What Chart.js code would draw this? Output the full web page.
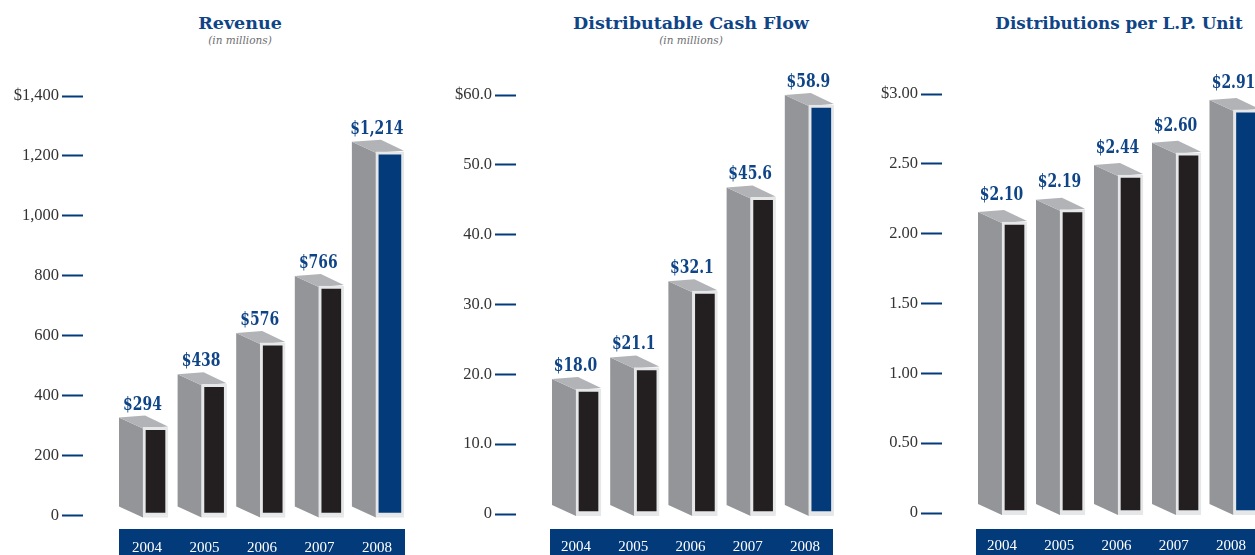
<!DOCTYPE html>
<html>
<head>
<meta charset="utf-8">
<title>Revenue, Distributable Cash Flow, Distributions per L.P. Unit</title>
<script src="https://cdn.jsdelivr.net/npm/chart.js@4"></script>
<style>
  html, body { margin: 0; padding: 0; background: #fff; }
  body { position: relative; width: 1255px; height: 555px; overflow: hidden; }
  canvas { position: absolute; top: 0; }
  .band { position: absolute; top: 529px; height: 26px; background: #023a7a; }
  .head { position: absolute; width: 400px; text-align: center; }
  .head h2 { position: absolute; top: 11px; width: 100%; margin: 0; font: bold 17.5px/24px "DejaVu Serif", serif; color: #0f4587; }
  .head p { position: absolute; top: 33px; width: 100%; margin: 0; font: italic 10.5px/14px "DejaVu Serif", serif; color: #6d6e71; }
</style>
</head>
<body>
<div class="band" style="left:119px;width:286px"></div>
<div class="band" style="left:550px;width:283px"></div>
<div class="band" style="left:976px;width:279px"></div>

<div class="head" style="left:40px"><h2>Revenue</h2><p>(in millions)</p></div>
<div class="head" style="left:491px"><h2>Distributable Cash Flow</h2><p>(in millions)</p></div>
<div class="head" style="left:919px"><h2 style="font-size:16.8px">Distributions per L.P. Unit</h2></div>

<canvas id="revenueChart"></canvas>
<canvas id="cashChart"></canvas>
<canvas id="unitChart"></canvas>

<script>
// ---- Data ----
const years = ['2004', '2005', '2006', '2007', '2008'];

const revenue = [294, 438, 576, 766, 1214];
const revenueLabels = ['$294', '$438', '$576', '$766', '$1,214'];
const revenueTicks = ['0', '200', '400', '600', '800', '1,000', '1,200', '$1,400'];

const cashFlow = [18.0, 21.1, 32.1, 45.6, 58.9];
const cashFlowLabels = ['$18.0', '$21.1', '$32.1', '$45.6', '$58.9'];
const cashFlowTicks = ['0', '10.0', '20.0', '30.0', '40.0', '50.0', '$60.0'];

const unitDist = [2.10, 2.19, 2.44, 2.60, 2.91];
const unitDistLabels = ['$2.10', '$2.19', '$2.44', '$2.60', '$2.91'];
const unitDistTicks = ['0', '0.50', '1.00', '1.50', '2.00', '2.50', '$3.00'];

// ---- Colours ----
const BLUE_TEXT = '#0f4587';
const BLUE_BAR = '#023a7a';
const BLACK_BAR = '#231f20';
const SIDE = '#939598';
const TOP = '#b1b3b6';
const FRAME = '#e6e7e8';

// ---- 3D look: side and top faces go behind the library's own bars ----
const DEPTH = 24;
const RISE = 11;

const boxPlugin = {
  id: 'box3d',
  beforeDatasetsDraw(chart) {
    const ctx = chart.ctx;
    chart.data.datasets.forEach((ds, d) => {
      chart.getDatasetMeta(d).data.forEach(bar => {
        const { x, y, width, base } = bar.getProps(['x', 'y', 'width', 'base'], true);
        const l = x - width / 2;
        const r = x + width / 2;

        ctx.fillStyle = SIDE;
        ctx.beginPath();
        ctx.moveTo(l, y + 1);
        ctx.lineTo(l - DEPTH, y + 1 - RISE);
        ctx.lineTo(l - DEPTH, base - RISE + 2);
        ctx.lineTo(l, base + 2);
        ctx.closePath();
        ctx.fill();

        ctx.fillStyle = TOP;
        ctx.beginPath();
        ctx.moveTo(l, y + 1);
        ctx.lineTo(l - DEPTH, y + 1 - RISE);
        ctx.lineTo(r - DEPTH + 1, y - RISE - 1);
        ctx.lineTo(r, y - 1);
        ctx.closePath();
        ctx.fill();

        // bottom lip of the frame
        ctx.fillStyle = FRAME;
        ctx.fillRect(l, base, width, 2);
      });
    });
  },
  afterDatasetsDraw(chart, args, opts) {
    const ctx = chart.ctx;
    ctx.save();
    ctx.font = 'bold 18px "DejaVu Serif Condensed", "DejaVu Serif", serif';
    ctx.fillStyle = BLUE_TEXT;
    ctx.textAlign = 'center';
    ctx.textBaseline = 'middle';
    let i = 0;
    chart.data.datasets.forEach((ds, d) => {
      chart.getDatasetMeta(d).data.forEach(bar => {
        const { x, y } = bar.getProps(['x', 'y'], true);
        // squeeze sideways: the original figures are narrow and tall
        ctx.save();
        ctx.translate(x - 13, y - opts.gap);
        ctx.scale(0.86, 1);
        ctx.fillText(opts.labels[i], 0, 0);
        ctx.restore();
        i++;
      });
    });
    ctx.restore();
  }
};

// ---- Panels ----
function makePanel(id, p) {
  const canvas = document.getElementById(id);
  canvas.style.left = p.canvasLeft + 'px';
  canvas.style.width = p.canvasWidth + 'px';
  canvas.style.height = '555px';
  canvas.width = p.canvasWidth;
  canvas.height = 555;

  const points = p.values.map((v, i) => ({ x: i, y: v }));

  return new Chart(canvas, {
    type: 'bar',
    plugins: [boxPlugin],
    data: {
      labels: years,
      datasets: [
        {
          data: points.slice(0, 4),
          xAxisID: 'xBars',
          yAxisID: 'yBars',
          backgroundColor: BLACK_BAR,
          borderColor: FRAME,
          borderWidth: 3,
          borderSkipped: false,
          barThickness: 25,
          grouped: false,
          clip: false
        },
        {
          data: points.slice(4),
          xAxisID: 'xBars',
          yAxisID: 'yBars',
          backgroundColor: BLUE_BAR,
          borderColor: FRAME,
          borderWidth: 3,
          borderSkipped: false,
          barThickness: p.lastWidth,
          grouped: false,
          clip: false
        }
      ]
    },
    options: {
      responsive: false,
      animation: false,
      layout: {
        padding: {
          top: p.zeroY - p.plotHeight,
          bottom: 0,
          left: 0,
          right: p.canvasWidth - (p.bandRight - p.canvasLeft)
        }
      },
      plugins: {
        legend: { display: false },
        tooltip: { enabled: false },
        box3d: { labels: p.labels, gap: p.labelGap }
      },
      scales: {
        x: {
          type: 'category',
          position: 'bottom',
          labels: years,
          afterFit: s => { s.height = 555 - p.zeroY; },
          border: { display: false },
          grid: { display: false },
          ticks: { color: '#fff', padding: 16, maxRotation: 0, font: { family: 'Liberation Serif', size: 15 } }
        },
        xBars: {
          type: 'linear',
          display: false,
          offset: false,
          min: -(p.firstBar - p.bandLeft) / p.barStep,
          max: (p.bandRight - p.firstBar) / p.barStep
        },
        // the boxes sit a touch under the printed ticks in panels 2 and 3
        yBars: {
          type: 'linear',
          display: false,
          min: 0,
          max: p.barsMax
        },
        y: {
          min: 0,
          max: p.yMax,
          afterFit: s => { s.width = p.bandLeft - p.canvasLeft; },
          afterBuildTicks: s => { s.ticks = p.ticks.map((t, i) => ({ value: i * p.yStep })); },
          border: { display: false },
          grid: {
            drawOnChartArea: false,
            tickLength: p.bandLeft - p.dashLeft,
            tickWidth: 2,
            tickColor: BLUE_BAR,
            tickBorderDash: [21, 100]
          },
          ticks: {
            color: '#333',
            padding: 3,
            font: { family: 'Liberation Serif', size: 16.5 },
            callback: (v, i) => p.ticks[i]
          }
        }
      }
    }
  });
}

makePanel('revenueChart', {
  canvasLeft: 0, canvasWidth: 420, zeroY: 515.5, plotHeight: 419.5,
  bandLeft: 118.25, bandRight: 405.75, dashLeft: 62,
  firstBar: 155.5, barStep: 58.6, lastWidth: 28, labelGap: 22.5,
  values: revenue, labels: revenueLabels, ticks: revenueTicks, yMax: 1400, yStep: 200, barsMax: 1400
});

makePanel('cashChart', {
  canvasLeft: 440, canvasWidth: 410, zeroY: 514, plotHeight: 419,
  bandLeft: 547.4, bandRight: 833.6, dashLeft: 495,
  firstBar: 588.5, barStep: 58.2, lastWidth: 25, labelGap: 23,
  values: cashFlow, labels: cashFlowLabels, ticks: cashFlowTicks, yMax: 60, yStep: 10, barsMax: 60.35
});

makePanel('unitChart', {
  canvasLeft: 860, canvasWidth: 420, zeroY: 513, plotHeight: 419,
  bandLeft: 973.4, bandRight: 1259.6, dashLeft: 921,
  firstBar: 1014.5, barStep: 58, lastWidth: 26, labelGap: 27,
  values: unitDist, labels: unitDistLabels, ticks: unitDistTicks, yMax: 3, yStep: 0.5, barsMax: 3.025
});
</script>
</body>
</html>
